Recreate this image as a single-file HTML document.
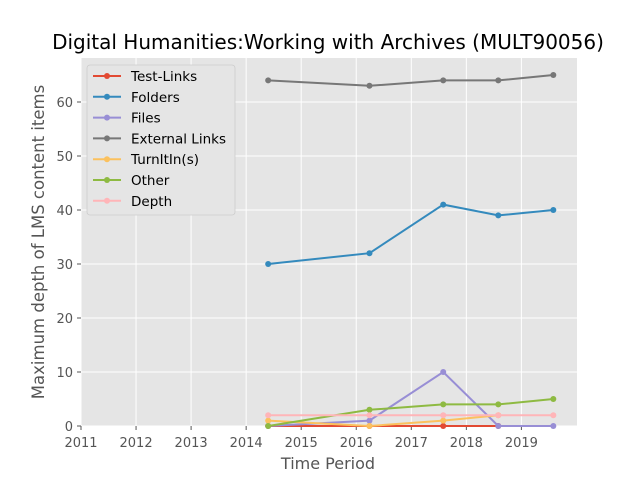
<!DOCTYPE html>
<html><head><meta charset="utf-8"><style>
body{margin:0;background:#fff;font-family:"Liberation Sans","DejaVu Sans",sans-serif}
svg text{font-family:"DejaVu Sans","Liberation Sans",sans-serif}
</style></head><body>
<svg id="chart" width="640" height="480">
<text x="328" y="49" font-size="20" text-anchor="middle" fill="#000">Digital Humanities:Working with Archives (MULT90056)</text>
<rect x="81" y="58" width="496" height="368" fill="#e5e5e5"/>
<g id="grid"></g><g id="ticks"></g><g id="series"></g>
<text x="328" y="469" font-size="16" text-anchor="middle" fill="#555">Time Period</text>
<text transform="translate(44,242) rotate(-90)" font-size="16.5" text-anchor="middle" fill="#555">Maximum depth of LMS content items</text>
<g id="legend"></g>
</svg>
<script>
const xTicks=[2011,2012,2013,2014,2015,2016,2017,2018,2019];
const yTicks=[0,10,20,30,40,50,60];
const times=[2014.4,2016.24,2017.58,2018.58,2019.58];
const seriesNames=["Test-Links","Folders","Files","External Links","TurnItIn(s)","Other","Depth"];
const testLinks=[0,0,0,0];
const folders=[30,32,41,39,40];
const files=[0,1,10,0,0];
const externalLinks=[64,63,64,64,65];
const turnitin=[1,0,1,2];
const other=[0,3,4,4,5];
const depth=[2,2,2,2,2];
const allSeries=[testLinks,folders,files,externalLinks,turnitin,other,depth];
const colors=["#e24a33","#348abd","#988ed5","#777777","#fbc15e","#8eba42","#ffb5b8"];
const NS="http://www.w3.org/2000/svg";
function X(v){return 81+(v-2011)*55.05;}
function Y(v){return 426-v*5.4;}
function mk(t,a,p){const e=document.createElementNS(NS,t);for(const k in a)e.setAttribute(k,a[k]);p.appendChild(e);return e;}
const grid=document.getElementById('grid'),ticks=document.getElementById('ticks');
xTicks.forEach(t=>{const x=X(t);
 const g=mk('line',{x1:x,x2:x,y1:58,y2:426,stroke:'#fff','stroke-width':1},grid);
 
 
 mk('line',{x1:x,x2:x,y1:426,y2:430,stroke:'#555'},ticks);
 const tx=mk('text',{x:x,y:447,'font-size':13,'text-anchor':'middle',fill:'#555'},ticks);tx.textContent=t;
 
 
});
yTicks.forEach(t=>{const y=Y(t);
 const g=mk('line',{x1:81,x2:577,y1:y,y2:y,stroke:'#fff','stroke-width':1},grid);
 
 
 mk('line',{x1:77,x2:81,y1:y,y2:y,stroke:'#555'},ticks);
 const tx=mk('text',{x:73,y:y+5,'font-size':13,'text-anchor':'end',fill:'#555'},ticks);tx.textContent=t;
 
 
});
const sg=document.getElementById('series');
allSeries.forEach((s,i)=>{
 const pts=s.map((v,j)=>X(times[j])+','+Y(v)).join(' ');
 const pl=mk('polyline',{points:pts,fill:'none',stroke:colors[i],'stroke-width':2},sg);
 
 
 s.forEach((v,j)=>{const c=mk('circle',{cx:X(times[j]),cy:Y(v),r:3,fill:colors[i]},sg);
  
  });
});
const lg=document.getElementById('legend');
mk('rect',{x:87,y:65,width:148,height:150,rx:3,fill:'#e5e5e5',stroke:'#ccc','stroke-width':0.8},lg);
seriesNames.forEach((n,i)=>{const y=76+i*20.8;
 mk('line',{x1:93,x2:121,y1:y,y2:y,stroke:colors[i],'stroke-width':2},lg);
 mk('circle',{cx:107,cy:y,r:3,fill:colors[i]},lg);
 const t=mk('text',{x:131,y:y+5,'font-size':13.5,fill:'#000'},lg);t.textContent=n;
 
 
});
</script>
</body></html>
